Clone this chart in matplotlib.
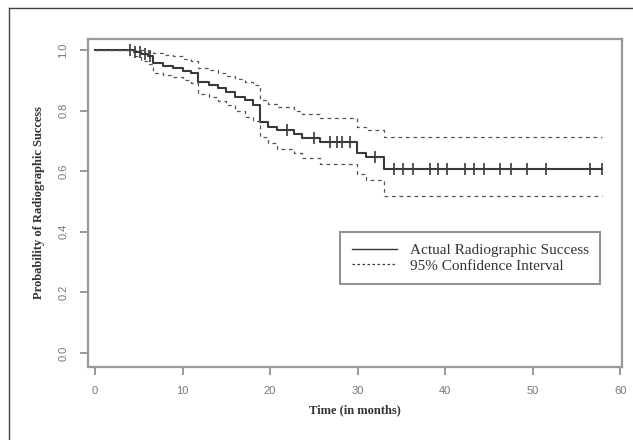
import numpy as np
import matplotlib
matplotlib.use("Agg")
import matplotlib.pyplot as plt
from matplotlib.lines import Line2D

# Kaplan-Meier estimate (months, survival)
step_times = [0, 4.5, 5.2, 6.0, 6.6, 7.8, 8.9, 10.1, 11.0, 11.8, 13.0, 14.1, 15.0,
              16.0, 17.1, 18.1, 18.9, 19.8, 20.8, 22.7, 23.6, 25.7, 29.9, 31.0, 33.0]
surv = [1.0, 0.993, 0.986, 0.979, 0.957, 0.947, 0.94, 0.932, 0.923, 0.896, 0.884,
        0.874, 0.862, 0.846, 0.835, 0.818, 0.763, 0.747, 0.736, 0.722, 0.711,
        0.698, 0.659, 0.648, 0.607]
upper = [1.0, 1.0, 1.0, 0.995, 0.99, 0.985, 0.98, 0.972, 0.965, 0.94, 0.933,
         0.925, 0.916, 0.905, 0.895, 0.885, 0.835, 0.822, 0.812, 0.80, 0.79,
         0.776, 0.745, 0.735, 0.712]
lower = [1.0, 0.98, 0.965, 0.955, 0.925, 0.918, 0.91, 0.90, 0.89, 0.855, 0.845,
         0.833, 0.82, 0.80, 0.78, 0.765, 0.712, 0.692, 0.672, 0.66, 0.645,
         0.625, 0.59, 0.57, 0.518]
end_time = 57.9

# censored observations
censor_times = [4.0, 4.6, 5.1, 5.7, 6.3, 21.9, 25.0, 26.9, 27.6, 28.2, 29.1, 32.0,
                34.2, 35.2, 36.3, 38.3, 39.2, 40.2, 42.3, 43.3, 44.4, 46.3, 47.5,
                49.4, 51.5, 56.5, 57.9]

x_ticks = [0, 10, 20, 30, 40, 50, 60]
y_ticks = [0.0, 0.2, 0.4, 0.6, 0.8, 1.0]

serif = ["Liberation Serif", "DejaVu Serif"]
sans = ["Liberation Sans", "DejaVu Sans"]

fig = plt.figure(figsize=(6.33, 4.40), dpi=100)
ax = fig.add_axes([0.139, 0.166, 0.844, 0.745])

t = step_times + [end_time]
s = surv + [surv[-1]]
u = upper + [upper[-1]]
l = lower + [lower[-1]]

line_col = "#3a3a3a"
ax.step(t, s, where="post", color=line_col, lw=1.5)
ax.step(t, u, where="post", color="#555555", lw=0.9, linestyle=(0, (3, 3)))
ax.step(t, l, where="post", color="#555555", lw=0.9, linestyle=(0, (3, 3)))

# censor marks sit on the curve
cen_y = [surv[np.searchsorted(step_times, c, side="right") - 1] for c in censor_times]
ax.plot(censor_times, cen_y, linestyle="none", marker="|", markersize=8,
        markeredgewidth=1.2, color=line_col)

ax.set_xlim(-0.8, 60.23)
ax.set_ylim(-0.046, 1.036)
ax.set_xticks(x_ticks)
ax.set_xticklabels([str(v) for v in x_ticks], family=sans, fontsize=8, color="#777777")
ax.set_yticks(y_ticks)
ax.set_yticklabels([f"{v:.1f}" for v in y_ticks], family=sans, fontsize=8,
                   color="#777777", rotation=90, va="center")
ax.tick_params(direction="out", length=6, width=1.2, color="#888888", pad=8)

for sp in ax.spines.values():
    sp.set_color("#999999")
    sp.set_linewidth(1.6)

ax.set_xlabel("Time (in months)", family=serif, fontsize=9, fontweight="bold",
              color="#333333", labelpad=6)
ax.set_ylabel("Probability of Radiographic Success", family=serif, fontsize=9,
              fontweight="bold", color="#333333", labelpad=10)

handles = [Line2D([], [], color=line_col, lw=1.0),
           Line2D([], [], color=line_col, lw=0.9, linestyle=(0, (2, 2)))]
leg = ax.legend(handles, ["Actual Radiographic Success", "95% Confidence Interval"],
                loc="upper left", bbox_to_anchor=(0.472, 0.411), borderaxespad=0,
                prop={"family": serif, "size": 11}, frameon=True, fancybox=False,
                handlelength=3.0, handletextpad=0.8, borderpad=0.75, labelspacing=0.1)
leg.get_frame().set_edgecolor("#777777")
leg.get_frame().set_linewidth(1.5)
for txt in leg.get_texts():
    txt.set_color("#333333")

# thin border of the scanned figure
fig.add_artist(Line2D([9 / 633, 1], [1 - 8 / 440, 1 - 8 / 440], color="#444444", lw=1.0))
fig.add_artist(Line2D([9 / 633, 9 / 633], [0, 1 - 8 / 440], color="#444444", lw=1.0))

fig.savefig("out.png", dpi=100)
